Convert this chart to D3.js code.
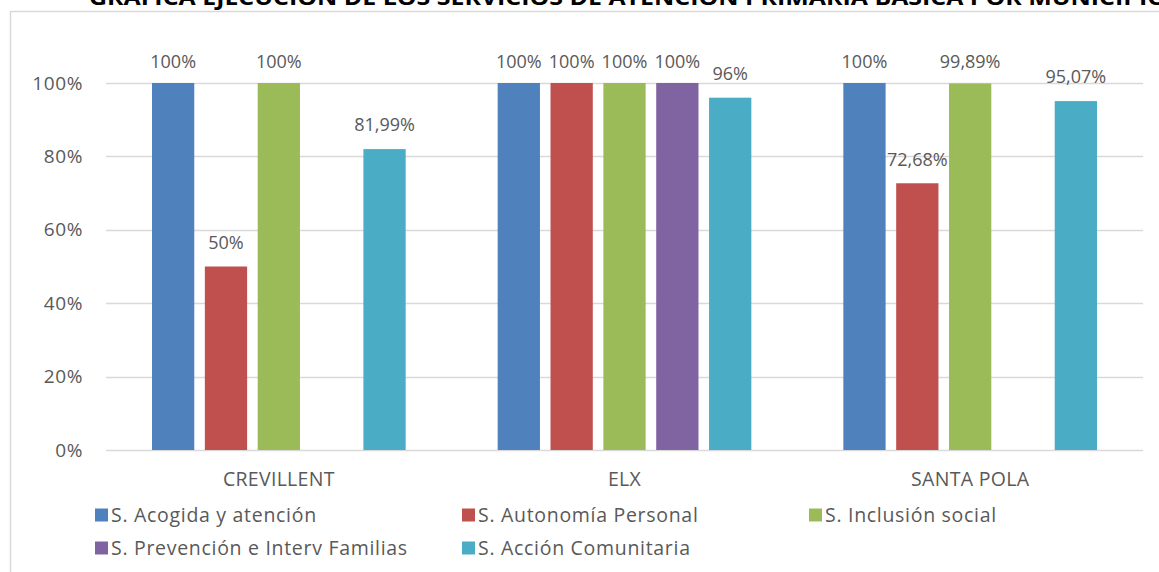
<!DOCTYPE html>
<html>
<head>
<meta charset="utf-8">
<script src="https://cdn.jsdelivr.net/npm/d3@7"></script>
<style>
  body { margin: 0; background: #fff; }
  text { font-family: "Open Sans", sans-serif; fill: #595959; }
</style>
</head>
<body>
<svg id="chart" width="1159" height="572"></svg>
<script>
const municipios = ['CREVILLENT', 'ELX', 'SANTA POLA'];
const servicios = [
  'S. Acogida y atención',
  'S. Autonomía Personal',
  'S. Inclusión social',
  'S. Prevención e Interv Familias',
  'S. Acción Comunitaria',
];
// one array per servicio, values per municipio (null = no bar)
const acogida = [100, 100, 100];
const autonomia = [50, 100, 72.68];
const inclusion = [100, 100, 99.89];
const prevencion = [null, 100, null];
const accion = [81.99, 96, 95.07];
const labels = [
  ['100%', '100%', '100%'],
  ['50%', '100%', '72,68%'],
  ['100%', '100%', '99,89%'],
  [null, '100%', null],
  ['81,99%', '96%', '95,07%'],
];
const yTicks = [0, 20, 40, 60, 80, 100];
const colors = ['#4F81BD', '#C0504D', '#9BBB59', '#8064A2', '#4BACC6'];

const series = [acogida, autonomia, inclusion, prevencion, accion];

const svg = d3.select('#chart');

// chart frame
svg.append('rect')
  .attr('x', 10.5).attr('y', 11.5)
  .attr('width', 1200).attr('height', 600)
  .attr('fill', 'none').attr('stroke', '#D9D9D9').attr('stroke-width', 1.5);

// title (cut at the top in the original)
svg.append('text')
  .attr('x', 89).attr('y', 5)
  .attr('font-size', 22).attr('font-weight', 'bold')
  .attr('textLength', 1078).attr('lengthAdjust', 'spacingAndGlyphs')
  .style('fill', '#000')
  .text('GRÁFICA EJECUCIÓN DE LOS SERVICIOS DE ATENCIÓN PRIMARIA BÁSICA POR MUNICIPIO');

const plotLeft = 106, plotRight = 1143, plotTop = 83, plotBottom = 450;

const x0 = d3.scaleBand().domain(municipios).range([plotLeft, plotRight]);
const x1 = d3.scaleBand().domain(d3.range(servicios.length))
  .range([46, x0.bandwidth() - 46]).paddingInner(0.2).paddingOuter(0);
const y = d3.scaleLinear().domain([0, 100]).range([plotBottom, plotTop]);

// grid
svg.append('g')
  .selectAll('line')
  .data(yTicks)
  .join('line')
  .attr('x1', plotLeft).attr('x2', plotRight)
  .attr('y1', d => Math.round(y(d)) + 0.5).attr('y2', d => Math.round(y(d)) + 0.5)
  .attr('stroke', '#D9D9D9').attr('stroke-width', 1.5);

// y axis labels
svg.append('g')
  .selectAll('text')
  .data(yTicks)
  .join('text')
  .attr('x', 83).attr('y', d => y(d))
  .attr('dy', '0.35em')
  .attr('text-anchor', 'end')
  .attr('font-size', 19)
  .attr('letter-spacing', 0.6)
  .text(d => d + '%');

// bars
const groups = svg.append('g')
  .selectAll('g')
  .data(series)
  .join('g')
  .attr('fill', (d, i) => colors[i]);

groups.selectAll('rect')
  .data((d, i) => d.map((v, j) => ({ v, i, j })).filter(e => e.v !== null))
  .join('rect')
  .attr('x', d => x0(municipios[d.j]) + x1(d.i))
  .attr('width', x1.bandwidth())
  .attr('y', d => y(d.v))
  .attr('height', d => y(0) - y(d.v));

// value labels
svg.append('g')
  .selectAll('text')
  .data(series.flatMap((s, i) => s.map((v, j) => ({ v, i, j, t: labels[i][j] }))).filter(e => e.v !== null))
  .join('text')
  .attr('x', d => x0(municipios[d.j]) + x1(d.i) + x1.bandwidth() / 2)
  .attr('y', d => Math.max(y(d.v) - 24, 62))
  .attr('dy', '0.35em')
  .attr('text-anchor', 'middle')
  .attr('font-size', 18)
  .text(d => d.t);

// category labels
svg.append('g')
  .selectAll('text')
  .data(municipios)
  .join('text')
  .attr('x', d => x0(d) + x0.bandwidth() / 2)
  .attr('y', 479)
  .attr('dy', '0.35em')
  .attr('text-anchor', 'middle')
  .attr('font-size', 19.5)
  .attr('letter-spacing', 0.3)
  .text(d => d);

// legend
const legendX = [95, 462, 809];
const legend = svg.append('g')
  .selectAll('g')
  .data(servicios)
  .join('g')
  .attr('transform', (d, i) => `translate(${legendX[i % 3]},${i < 3 ? 515 : 548})`);

legend.append('rect')
  .attr('x', 0).attr('y', -6.5)
  .attr('width', 13).attr('height', 13)
  .attr('fill', (d, i) => colors[i]);

legend.append('text')
  .attr('x', 16).attr('y', 0)
  .attr('dy', '0.35em')
  .attr('font-size', 19.5)
  .attr('letter-spacing', 0.7)
  .text(d => d);
</script>
</body>
</html>
